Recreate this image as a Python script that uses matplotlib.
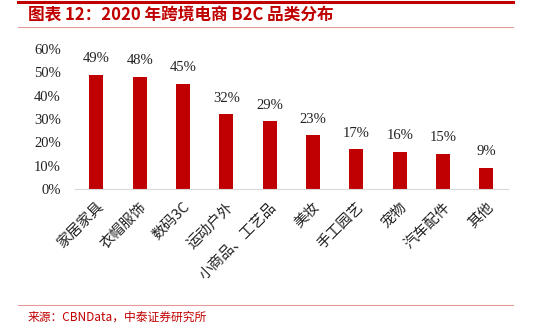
"""2020 cross-border B2C category distribution bar chart."""

import matplotlib

matplotlib.use("Agg", force=True)
import matplotlib.pyplot as plt
from matplotlib.lines import Line2D

categories = ["家居家具", "衣帽服饰", "数码3C", "运动户外", "小商品、工艺品",
              "美妆", "手工园艺", "宠物", "汽车配件", "其他"]
shares = [49, 48, 45, 32, 29, 23, 17, 16, 15, 9]
yticks = [0, 10, 20, 30, 40, 50, 60]

title = "图表 12：2020 年跨境电商 B2C 品类分布"
source = "来源：CBNData，中泰证券研究所"

RED = "#C00000"
CJK = ["Noto Sans CJK SC", "DejaVu Sans"]
SERIF = ["Liberation Serif", "Noto Sans CJK SC"]

fig = plt.figure(figsize=(5.35, 3.24), dpi=100)
ax = fig.add_axes([0.1396, 0.4167, 0.8099, 0.432])

x = range(len(categories))
ax.bar(x, shares, width=0.32, color=RED, zorder=2)
for xi, v in zip(x, shares):
    ax.annotate(f"{v}%", (xi, v), xytext=(0, 7), textcoords="offset points",
                ha="center", va="bottom", fontsize=10.5, family=SERIF, color="#222222")

ax.set_xlim(-0.5, len(categories) - 0.5)
ax.set_ylim(0, 60)
ax.set_yticks(yticks)
ax.set_yticklabels([f"{t}%" for t in yticks], family=SERIF, fontsize=10.5, color="#222222")
ax.set_xticks(list(x))
ax.set_xticklabels(categories, rotation=45, ha="right", va="top", rotation_mode="anchor",
                   family=CJK, fontsize=10.5, color="#222222")
ax.tick_params(axis="both", length=0)
ax.tick_params(axis="y", pad=10)
ax.tick_params(axis="x", pad=8)
for side in ["top", "right", "left"]:
    ax.spines[side].set_visible(False)
ax.spines["bottom"].set_color("#D9D9D9")
ax.spines["bottom"].set_linewidth(0.8)

# header / footer decoration
x0, x1 = 18 / 535, 513 / 535
fig.add_artist(Line2D([x0, x1], [1 - 1.5 / 324] * 2, color=RED, lw=2.2))
fig.add_artist(Line2D([x0, x1], [1 - 27 / 324] * 2, color="#E59A9A", lw=0.8))
fig.add_artist(Line2D([x0, x1], [1 - 305 / 324] * 2, color="#E59A9A", lw=0.8))
fig.text(28 / 535, 1 - 15 / 324, title, family=CJK, fontsize=12, fontweight="bold",
         style="italic", color=RED, ha="left", va="center")
fig.text(28 / 535, 1 - 317 / 324, source, family=CJK, fontsize=8.5, color=RED,
         ha="left", va="center")

fig.savefig("out.png", dpi=100)
plt.close(fig)
